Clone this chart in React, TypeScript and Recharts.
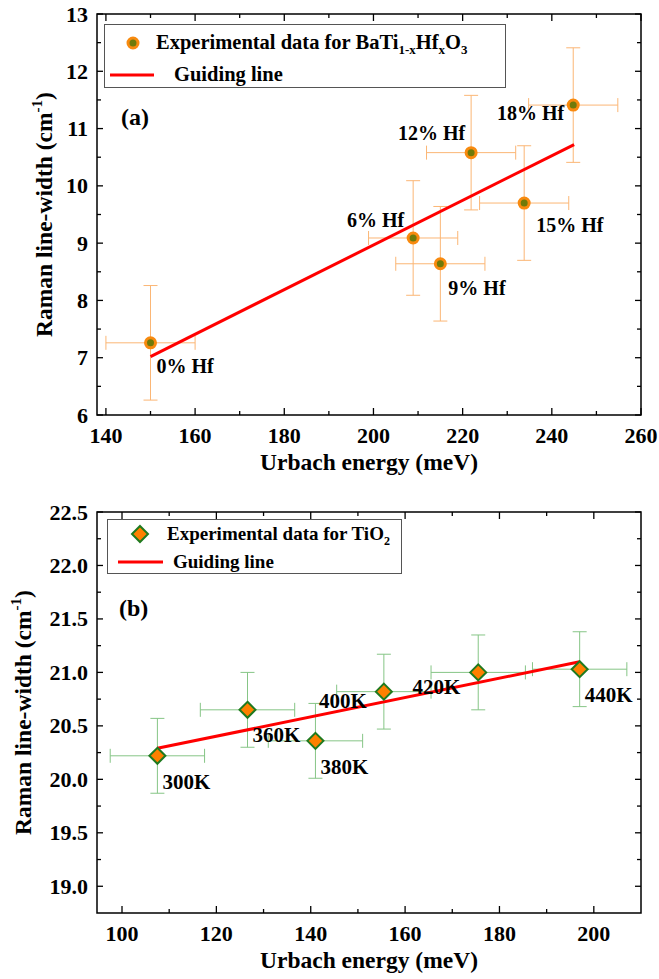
import {
  ErrorBar,
  ReferenceArea,
  Scatter,
  ScatterChart,
  XAxis,
  YAxis,
} from 'recharts';

// (a) BaTi(1-x)Hf(x)O3
const HF_LABELS = ['0% Hf', '6% Hf', '9% Hf', '12% Hf', '15% Hf', '18% Hf'];
const HF_URBACH = [150, 208.9, 215, 221.9, 233.8, 244.8];
const HF_WIDTH = [7.26, 9.09, 8.64, 10.58, 9.7, 11.41];
const HF_URBACH_ERR = [10, 10, 10, 10, 10, 10];
const HF_WIDTH_ERR = [1, 1, 1, 1, 1, 1];
const HF_GUIDE_X = [150, 245];
const HF_GUIDE_Y = [7.02, 10.72];
const HF_X_DOMAIN = [138, 260];
const HF_Y_DOMAIN = [6, 13];
const HF_X_TICKS = [140, 150, 160, 170, 180, 190, 200, 210, 220, 230, 240, 250, 260];
const HF_Y_TICKS = [6, 6.5, 7, 7.5, 8, 8.5, 9, 9.5, 10, 10.5, 11, 11.5, 12, 12.5, 13];

// (b) TiO2 at different temperatures
const TEMP_LABELS = ['300K', '360K', '380K', '400K', '420K', '440K'];
const TIO2_URBACH = [107.5, 126.6, 141.0, 155.5, 175.5, 197.0];
const TIO2_WIDTH = [20.22, 20.65, 20.36, 20.82, 21.0, 21.03];
const TIO2_URBACH_ERR = [10, 10, 10, 10, 10, 10];
const TIO2_WIDTH_ERR = [0.35, 0.35, 0.35, 0.35, 0.35, 0.35];
const TIO2_GUIDE_X = [107.5, 197];
const TIO2_GUIDE_Y = [20.29, 21.1];
const TIO2_X_DOMAIN = [94.7, 210];
const TIO2_Y_DOMAIN = [18.75, 22.5];
const TIO2_X_TICKS = [100, 110, 120, 130, 140, 150, 160, 170, 180, 190, 200];
const TIO2_Y_TICKS = [
  19, 19.25, 19.5, 19.75, 20, 20.25, 20.5, 20.75, 21, 21.25, 21.5, 21.75, 22,
  22.25, 22.5,
];

// where each point label sits relative to its marker
const LABEL_PLACE: Record<string, { dx: number; dy: number; anchor: string }> = {
  '0% Hf': { dx: 6, dy: 30, anchor: 'start' },
  '6% Hf': { dx: -9, dy: -11, anchor: 'end' },
  '9% Hf': { dx: 8, dy: 31, anchor: 'start' },
  '12% Hf': { dx: -6, dy: -13, anchor: 'end' },
  '15% Hf': { dx: 12, dy: 29, anchor: 'start' },
  '18% Hf': { dx: -9, dy: 15, anchor: 'end' },
  '300K': { dx: 5, dy: 33, anchor: 'start' },
  '360K': { dx: 5, dy: 32, anchor: 'start' },
  '380K': { dx: 5, dy: 33, anchor: 'start' },
  '400K': { dx: -17, dy: 16, anchor: 'end' },
  '420K': { dx: -18, dy: 22, anchor: 'end' },
  '440K': { dx: 5, dy: 33, anchor: 'start' },
};

const zip = (xs: number[], ys: number[], exs: number[], eys: number[], labels: string[]) =>
  xs.map((x, i) => ({ x, y: ys[i], ex: exs[i], ey: eys[i], label: labels[i] }));
const line = (xs: number[], ys: number[]) => xs.map((x, i) => ({ x, y: ys[i] }));

const hfData = zip(HF_URBACH, HF_WIDTH, HF_URBACH_ERR, HF_WIDTH_ERR, HF_LABELS);
const hfGuide = line(HF_GUIDE_X, HF_GUIDE_Y);
const tio2Data = zip(TIO2_URBACH, TIO2_WIDTH, TIO2_URBACH_ERR, TIO2_WIDTH_ERR, TEMP_LABELS);
const tio2Guide = line(TIO2_GUIDE_X, TIO2_GUIDE_Y);

const FONT = "'Liberation Serif', 'Times New Roman', serif";
const W = 659;
const M_RIGHT = 18;
const Y_AXIS_W = 97;
const PLOT_TOP = 14;

const textStyle = { fontFamily: FONT, fontWeight: 700, fill: '#000' };

const makeXTick =
  (step: number, fmt: (v: number) => string) =>
  (props: any) => {
    const { x, y, payload } = props;
    const v = payload.value;
    const major = Math.abs(v / step - Math.round(v / step)) < 1e-6;
    const len = major ? 7 : 4;
    return (
      <g>
        <line x1={x} x2={x} y1={y} y2={y - len} stroke='#000' strokeWidth={1.3} />
        <line x1={x} x2={x} y1={PLOT_TOP} y2={PLOT_TOP + len} stroke='#000' strokeWidth={1.3} />
        {major && (
          <text x={x} y={y + 28} textAnchor='middle' fontSize={22} style={textStyle}>
            {fmt(v)}
          </text>
        )}
      </g>
    );
  };

const makeYTick =
  (step: number, fmt: (v: number) => string) =>
  (props: any) => {
    const { x, y, payload } = props;
    const v = payload.value;
    const major = Math.abs(v / step - Math.round(v / step)) < 1e-6;
    const len = major ? 6 : 4;
    const right = W - M_RIGHT;
    return (
      <g>
        <line x1={x} x2={x + len} y1={y} y2={y} stroke='#000' strokeWidth={1.3} />
        <line x1={right} x2={right - len} y1={y} y2={y} stroke='#000' strokeWidth={1.3} />
        {major && (
          <text x={x - 9} y={y + 7.5} textAnchor='end' fontSize={22} style={textStyle}>
            {fmt(v)}
          </text>
        )}
      </g>
    );
  };

const Circle = (props: any) => {
  const { cx, cy, payload } = props;
  const p = LABEL_PLACE[payload.label];
  return (
    <g>
      <circle cx={cx} cy={cy} r={5} fill='#6F7A0A' stroke='#F88A0F' strokeWidth={3} />
      <text
        x={cx + p.dx}
        y={cy + p.dy}
        textAnchor={p.anchor}
        fontSize={20}
        style={textStyle}>
        {payload.label}
      </text>
    </g>
  );
};

const Diamond = (props: any) => {
  const { cx, cy, payload } = props;
  const p = LABEL_PLACE[payload.label];
  const r = 8;
  return (
    <g>
      <path
        d={`M${cx},${cy - r} L${cx + r},${cy} L${cx},${cy + r} L${cx - r},${cy} Z`}
        fill='#FF8000'
        stroke='#1F7A1F'
        strokeWidth={2}
      />
      <text
        x={cx + p.dx}
        y={cy + p.dy}
        textAnchor={p.anchor}
        fontSize={21}
        style={textStyle}>
        {payload.label}
      </text>
    </g>
  );
};

const NoPoint = () => <g />;

const xTitle = (props: any) => {
  const vb = props.viewBox;
  return (
    <text
      x={vb.x + vb.width / 2}
      y={vb.y + 55}
      textAnchor='middle'
      fontSize={23.5}
      style={textStyle}>
      Urbach energy (meV)
    </text>
  );
};

const makeYTitle = (baseX: number) => (props: any) => {
  const vb = props.viewBox;
  const cy = vb.y + vb.height / 2;
  return (
    <text
      transform={`translate(${baseX}, ${cy}) rotate(-90)`}
      textAnchor='middle'
      fontSize={23.5}
      style={textStyle}>
      Raman line-width (cm
      <tspan fontSize={15} dy={-10}>
        -1
      </tspan>
      <tspan dy={10}>)</tspan>
    </text>
  );
};

function Panel({
  data,
  guide,
  xDomain,
  yDomain,
  xTicks,
  yTicks,
  height,
  xAxisHeight,
  yStep,
  yFmt,
  titleX,
  errColor,
  shape,
}: any) {
  return (
    <ScatterChart
      width={W}
      height={height}
      margin={{ top: PLOT_TOP, right: M_RIGHT, left: 0, bottom: 0 }}>
      <XAxis
        type='number'
        dataKey='x'
        domain={xDomain}
        ticks={xTicks}
        interval={0}
        allowDataOverflow
        axisLine={false}
        tickLine={false}
        tickSize={0}
        tickMargin={0}
        height={xAxisHeight}
        tick={makeXTick(20, (v) => String(v))}
        label={{ content: xTitle }}
      />
      <YAxis
        type='number'
        dataKey='y'
        domain={yDomain}
        ticks={yTicks}
        interval={0}
        allowDataOverflow
        axisLine={false}
        tickLine={false}
        tickSize={0}
        tickMargin={0}
        width={Y_AXIS_W}
        tick={makeYTick(yStep, yFmt)}
        label={{ content: makeYTitle(titleX) }}
      />
      <Scatter
        data={guide}
        line={{ stroke: '#FF0000', strokeWidth: 3 }}
        shape={NoPoint}
        isAnimationActive={false}
      />
      <Scatter data={data} shape={shape} isAnimationActive={false}>
        <ErrorBar dataKey='ex' direction='x' width={7} stroke={errColor} strokeWidth={1} />
        <ErrorBar dataKey='ey' direction='y' width={7} stroke={errColor} strokeWidth={1} />
      </Scatter>
      <ReferenceArea
        x1={xDomain[0]}
        x2={xDomain[1]}
        y1={yDomain[0]}
        y2={yDomain[1]}
        fill='none'
        stroke='#000'
        strokeWidth={1.5}
        ifOverflow='visible'
      />
    </ScatterChart>
  );
}

const legendText = {
  position: 'absolute' as const,
  fontFamily: FONT,
  fontWeight: 700,
  whiteSpace: 'nowrap' as const,
  lineHeight: 1,
  color: '#000',
};

export default function App() {
  return (
    <div
      style={{
        position: 'absolute',
        left: 0,
        top: 0,
        width: W,
        height: 979,
        background: '#fff',
      }}>
      <div style={{ position: 'absolute', left: 0, top: 0 }}>
        <Panel
          data={hfData}
          guide={hfGuide}
          xDomain={HF_X_DOMAIN}
          yDomain={HF_Y_DOMAIN}
          xTicks={HF_X_TICKS}
          yTicks={HF_Y_TICKS}
          height={490}
          xAxisHeight={75}
          yStep={1}
          yFmt={(v: number) => String(v)}
          titleX={52}
          errColor='#FBB675'
          shape={Circle}
        />
      </div>
      <div style={{ position: 'absolute', left: 0, top: 498 }}>
        <Panel
          data={tio2Data}
          guide={tio2Guide}
          xDomain={TIO2_X_DOMAIN}
          yDomain={TIO2_Y_DOMAIN}
          xTicks={TIO2_X_TICKS}
          yTicks={TIO2_Y_TICKS}
          height={481}
          xAxisHeight={66}
          yStep={0.5}
          yFmt={(v: number) => v.toFixed(1)}
          titleX={31}
          errColor='#86C586'
          shape={Diamond}
        />
      </div>

      {/* legend (a) */}
      <div
        style={{
          position: 'absolute',
          left: 104,
          top: 24,
          width: 400,
          height: 62,
          border: '1px solid #555',
          background: '#fff',
        }}>
        <svg style={{ position: 'absolute', left: 0, top: 0 }} width={60} height={62}>
          <circle cx={28} cy={18} r={5} fill='#6F7A0A' stroke='#F88A0F' strokeWidth={3} />
          <line x1={5} x2={49} y1={50} y2={50} stroke='#FF0000' strokeWidth={3} />
        </svg>
        <div style={{ ...legendText, left: 51, top: 7, fontSize: 20.5 }}>
          Experimental data for BaTi<sub style={{ fontSize: 13 }}>1-x</sub>Hf
          <sub style={{ fontSize: 13 }}>x</sub>O<sub style={{ fontSize: 13 }}>3</sub>
        </div>
        <div style={{ ...legendText, left: 69, top: 39, fontSize: 20.5 }}>Guiding line</div>
      </div>

      {/* legend (b) */}
      <div
        style={{
          position: 'absolute',
          left: 107,
          top: 519,
          width: 293,
          height: 53,
          border: '1px solid #555',
          background: '#fff',
        }}>
        <svg style={{ position: 'absolute', left: 0, top: 0 }} width={60} height={53}>
          <path d='M32,6 L40,14 L32,22 L24,14 Z' fill='#FF8000' stroke='#1F7A1F' strokeWidth={2} />
          <line x1={10} x2={55} y1={42} y2={42} stroke='#FF0000' strokeWidth={3} />
        </svg>
        <div style={{ ...legendText, left: 59, top: 4, fontSize: 19 }}>
          Experimental data for TiO<sub style={{ fontSize: 12 }}>2</sub>
        </div>
        <div style={{ ...legendText, left: 65, top: 32, fontSize: 19 }}>Guiding line</div>
      </div>

      <div style={{ ...legendText, left: 121, top: 105, fontSize: 24 }}>(a)</div>
      <div style={{ ...legendText, left: 119, top: 596, fontSize: 24 }}>(b)</div>
    </div>
  );
}
